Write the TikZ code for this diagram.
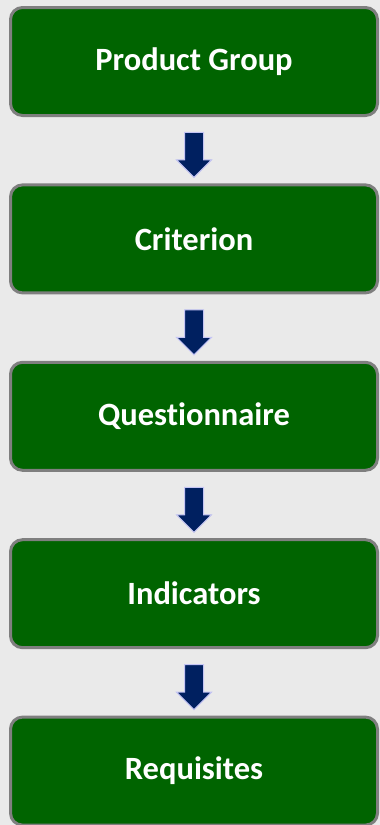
\documentclass[tikz,border=0pt]{standalone}
\usepackage{fontspec}
\setmainfont{Carlito}[Ligatures=NoCommon]
\usetikzlibrary{shapes.arrows}
\definecolor{bggray}{HTML}{EAEAEA}
\definecolor{boxgreen}{HTML}{006400}
\definecolor{boxgray}{HTML}{7F7F7F}
\definecolor{navy}{HTML}{002060}
\definecolor{lavender}{HTML}{C4C4F4}
\tikzstyle{stage} = [rectangle, rounded corners=12pt, minimum width=367pt, minimum height=108pt, text centered, draw=boxgray, line width=3pt, fill=boxgreen, text=white, font=\bfseries\fontsize{32.5}{36}\selectfont]
\tikzstyle{downarrow} = [single arrow, rotate=-90, minimum width=34pt, minimum height=45pt, single arrow head extend=8pt, single arrow head indent=0pt, inner sep=9pt, fill=navy, draw=lavender, line width=1pt]

\begin{document}
\begin{tikzpicture}[node distance=177.4pt]
	\fill[bggray] (0,0) rectangle (380pt,-825pt);
	\useasboundingbox (0,0) rectangle (380pt,-825pt);

	\node (grp) [stage] at (194pt,-61.5pt) {Product Group};
	\node (crit) [stage, below of=grp] {Criterion};
	\node (quest) [stage, below of=crit] {Questionnaire};
	\node (ind) [stage, below of=quest] {Indicators};
	\node (req) [stage, below of=ind] {Requisites};

\path (grp.south) -- (crit.north) node [downarrow, midway] (ar1) {};
\path (crit.south) -- (quest.north) node [downarrow, midway] (ar2) {};
\path (quest.south) -- (ind.north) node [downarrow, midway] (ar3) {};
\path (ind.south) -- (req.north) node [downarrow, midway] (ar4) {};

\end{tikzpicture}
\end{document}
